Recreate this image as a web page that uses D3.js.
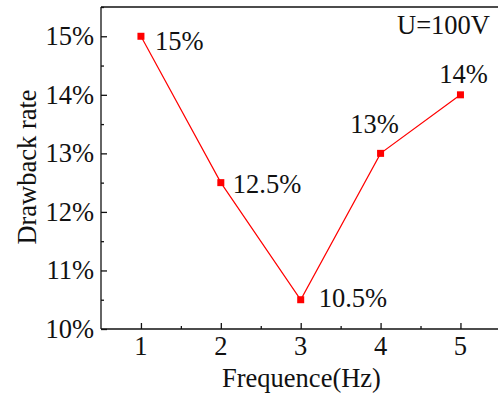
<!DOCTYPE html>
<html>
<head>
<meta charset="utf-8">
<script src="https://cdn.jsdelivr.net/npm/d3@7"></script>
<style>
  html, body { margin: 0; padding: 0; background: #fff; }
  svg text { font-family: "Liberation Serif", "Times New Roman", serif; fill: #111; }
</style>
</head>
<body>
<svg id="chart" width="498" height="398"></svg>
<script>
// Drawback rate vs. pulse frequency at U = 100 V
const frequencies = [1, 2, 3, 4, 5];
const drawbackRates = [15, 12.5, 10.5, 13, 14];
const pointLabels = ["15%", "12.5%", "10.5%", "13%", "14%"];
const xTicks = [1, 2, 3, 4, 5];
const yTicks = [10, 11, 12, 13, 14, 15];

const svg = d3.select("#chart");
const margin = { left: 101, right: 0, top: 7, bottom: 69 };
const W = 498, H = 398;
const fs = 26.5;

const x = d3.scaleLinear().domain([0.5, 5.47]).range([margin.left, W - margin.right]);
const y = d3.scaleLinear().domain([10, 15.5]).range([H - margin.bottom, margin.top]);

// frame: top line closing the plot area
const frame = svg.append("g").attr("stroke", "#111").attr("stroke-width", 1.3).attr("fill", "none");
frame.append("line").attr("x1", x(0.5)).attr("x2", W).attr("y1", y(15.5)).attr("y2", y(15.5));

// x axis (ticks pointing inward)
const xAxis = svg.append("g").attr("transform", `translate(0,${y(10)})`);
xAxis.call(d3.axisBottom(x).tickValues(d3.range(1, 5.6, 0.5)).tickSize(0).tickFormat(""));
xAxis.select(".domain").attr("d", `M${x(0.5)},0H${W}`).attr("stroke", "#111").attr("stroke-width", 1.3);
xAxis.selectAll(".tick line")
  .attr("y2", d => Number.isInteger(d) ? -6 : -3)
  .attr("stroke", "#111").attr("stroke-width", 1.3);
xTicks.forEach(v => {
  svg.append("text").attr("x", x(v)).attr("y", y(10) + 26)
    .attr("text-anchor", "middle").attr("font-size", fs).text(v);
});

// y axis (ticks pointing inward)
const yAxis = svg.append("g").attr("transform", `translate(${x(0.5)},0)`);
yAxis.call(d3.axisLeft(y).tickValues(d3.range(10, 15.6, 0.5)).tickSize(0).tickFormat(""));
yAxis.select(".domain").attr("d", `M0,${y(15.5)}V${y(10)}`).attr("stroke", "#111").attr("stroke-width", 1.3);
yAxis.selectAll(".tick line")
  .attr("x2", d => Number.isInteger(d) ? 6 : 3)
  .attr("stroke", "#111").attr("stroke-width", 1.3);
yTicks.forEach(v => {
  svg.append("text").attr("x", x(0.5) - 7).attr("y", y(v) + 9)
    .attr("text-anchor", "end").attr("font-size", fs).text(v + "%");
});

// axis titles
svg.append("text").attr("x", (x(0.5) + W) / 2 + 2).attr("y", 387)
  .attr("text-anchor", "middle").attr("font-size", fs).text("Frequence(Hz)");
svg.append("text").attr("transform", `translate(36,${(y(10) + y(15.5)) / 2 - 1}) rotate(-90)`)
  .attr("text-anchor", "middle").attr("font-size", fs).text("Drawback rate");

// series line and markers
const data = frequencies.map((f, i) => ({ f, r: drawbackRates[i], label: pointLabels[i] }));
svg.append("path").datum(data)
  .attr("fill", "none").attr("stroke", "#ff0000").attr("stroke-width", 1.2)
  .attr("d", d3.line().x(d => x(d.f)).y(d => y(d.r)));
svg.selectAll("rect.pt").data(data).join("rect").attr("class", "pt")
  .attr("x", d => x(d.f) - 3.5).attr("y", d => y(d.r) - 3.5)
  .attr("width", 7).attr("height", 7).attr("fill", "#ff0000");

// value labels
const labelPos = [
  { dx: 14, dy: 14, anchor: "start" },
  { dx: 12, dy: 10, anchor: "start" },
  { dx: 18, dy: 7, anchor: "start" },
  { dx: -6, dy: -20, anchor: "middle" },
  { dx: 3, dy: -12, anchor: "middle" }
];
svg.selectAll("text.val").data(data).join("text").attr("class", "val")
  .attr("x", (d, i) => x(d.f) + labelPos[i].dx)
  .attr("y", (d, i) => y(d.r) + labelPos[i].dy)
  .attr("text-anchor", (d, i) => labelPos[i].anchor)
  .attr("font-size", fs).text(d => d.label);

// condition note
svg.append("text").attr("x", 490).attr("y", 34).attr("text-anchor", "end")
  .attr("font-size", fs).text("U=100V");
</script>
</body>
</html>
